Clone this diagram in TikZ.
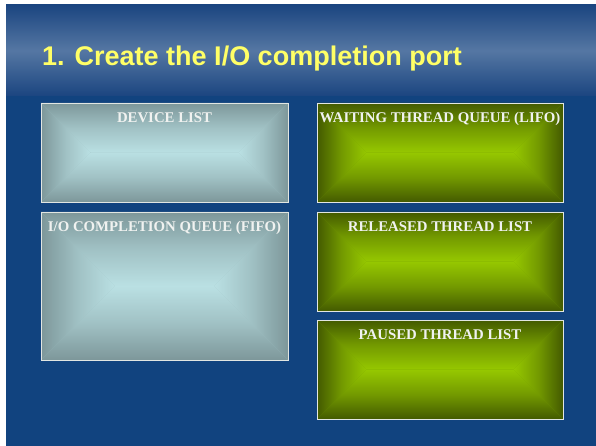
\documentclass[tikz,border=0pt]{standalone}
\usepackage{fontspec}
\setmainfont{Liberation Serif}
\newfontfamily\titlefont{Liberation Sans}
\definecolor{bgblue}{HTML}{11437F}
\definecolor{banddark}{HTML}{1B4580}
\definecolor{bandlight}{HTML}{5577A3}
\definecolor{titleyellow}{HTML}{FFFF66}
\definecolor{grayedge}{HTML}{7D979A}
\definecolor{graycenter}{HTML}{BAE0E3}
\colorlet{graymid}{graycenter!58!grayedge}
\definecolor{greenedge}{HTML}{435A00}
\definecolor{greencenter}{HTML}{96C800}
\colorlet{greenmid}{greencenter!58!greenedge}
\definecolor{boxline}{HTML}{E2E6E2}
\definecolor{labeltext}{HTML}{F0F2F0}
\newcommand\bevelfill[7]{% x1 y1 x2 y2 edge center mid
  \pgfmathsetmacro\hh{(#4-#2)/2}%
  \pgfmathsetmacro\ym{(#2+#4)/2}%
  \pgfmathsetmacro\xa{#1+\hh}%
  \pgfmathsetmacro\xb{#3-\hh}%
  \fill[#7] (#1,#2) rectangle (#3,#4);
  \shade[top color=#5, bottom color=#6, middle color=#7] (#1,#2) -- (#3,#2) -- (\xb,\ym) -- (\xa,\ym) -- cycle;
  \shade[top color=#6, bottom color=#5, middle color=#7] (\xa,\ym) -- (\xb,\ym) -- (#3,#4) -- (#1,#4) -- cycle;
  \shade[left color=#5, right color=#6, middle color=#7] (#1,#2) -- (\xa,\ym) -- (#1,#4) -- cycle;
  \shade[left color=#6, right color=#5, middle color=#7] (#3,#2) -- (#3,#4) -- (\xb,\ym) -- cycle;
}
\tikzset{
  panel/.style={draw=boxline, line width=0.9pt, rectangle, inner sep=0pt},
  lbl/.style={font=\bfseries\fontsize{14.8}{16}\selectfont, text=labeltext, inner sep=0pt, anchor=base},
  ttl/.style={font=\titlefont\bfseries\fontsize{27}{30}\selectfont, text=titleyellow, inner sep=0pt, anchor=base west}
}
\begin{document}
\begin{tikzpicture}[x=1pt,y=-1pt]
\useasboundingbox (0,0) rectangle (596,446);
\fill[white] (0,0) rectangle (596,446);
\fill[bgblue] (6,5) rectangle (596,446);
\shade[top color=banddark, bottom color=banddark, middle color=bandlight] (6,5) rectangle (596,96);
\node[ttl] (title) at (42,66) {1. Create the I/O completion port};
% left column
\bevelfill{41}{103}{288}{202}{grayedge}{graycenter}{graymid}
\node[panel, minimum width=247pt, minimum height=99pt] (dev) at (164.5,152.5) {};
\node[lbl] (devt) at ([yshift=-20pt]dev.north) {DEVICE LIST};
\bevelfill{41}{212}{288}{360}{grayedge}{graycenter}{graymid}
\node[panel, minimum width=247pt, minimum height=148pt] (ioq) at (164.5,286) {};
\node[lbl] (ioqt) at ([yshift=-20pt]ioq.north) {I/O COMPLETION QUEUE (FIFO)};
% right column
\bevelfill{317}{103}{563}{202}{greenedge}{greencenter}{greenmid}
\node[panel, minimum width=246pt, minimum height=99pt] (wait) at (440,152.5) {};
\node[lbl] (waitt) at ([yshift=-20pt]wait.north) {WAITING THREAD QUEUE (LIFO)};
\bevelfill{317}{212}{563}{311}{greenedge}{greencenter}{greenmid}
\node[panel, minimum width=246pt, minimum height=99pt] (rel) at (440,261.5) {};
\node[lbl] (relt) at ([yshift=-20pt]rel.north) {RELEASED THREAD LIST};
\bevelfill{317}{320}{563}{419}{greenedge}{greencenter}{greenmid}
\node[panel, minimum width=246pt, minimum height=99pt] (pau) at (440,369.5) {};
\node[lbl] (paut) at ([yshift=-20pt]pau.north) {PAUSED THREAD LIST};
\end{tikzpicture}
\end{document}
